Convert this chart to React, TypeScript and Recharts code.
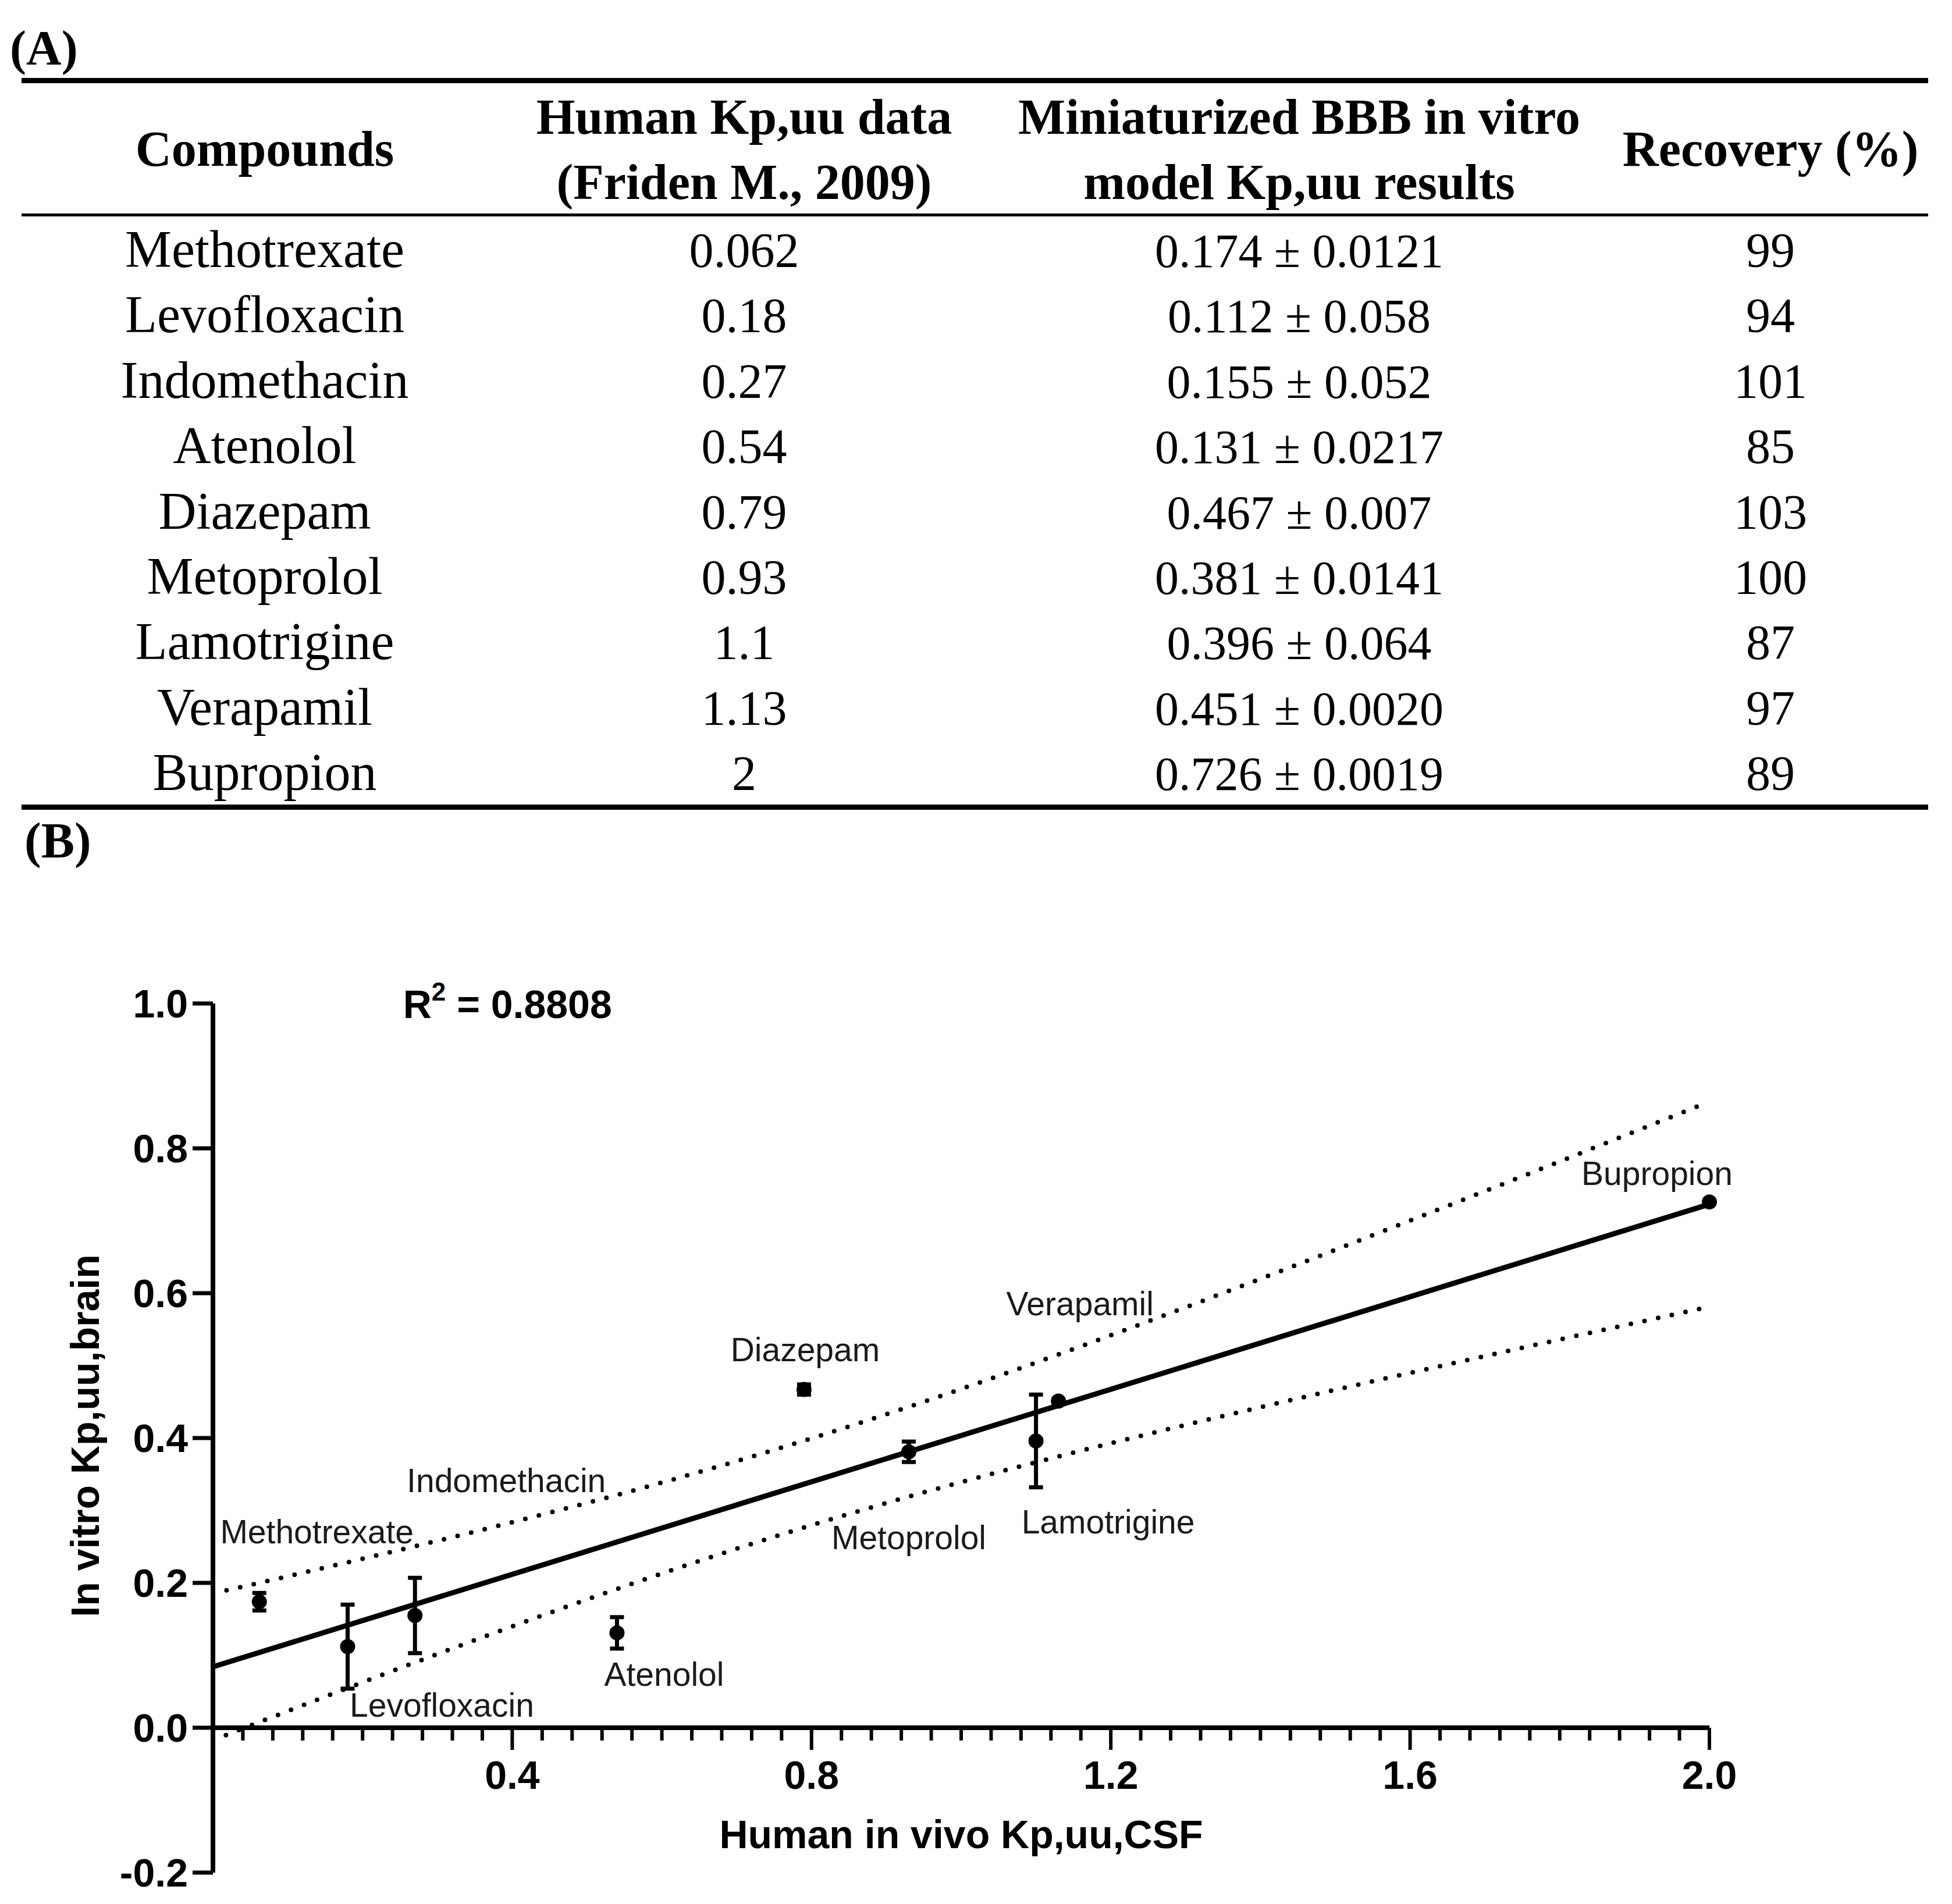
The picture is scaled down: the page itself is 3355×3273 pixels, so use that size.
import React from 'react'
import { ScatterChart, Scatter, XAxis, YAxis, ReferenceLine, ReferenceDot, ErrorBar, Label } from 'recharts'

// ---- data (table A and plot B) ----
const compounds = ['Methotrexate', 'Levofloxacin', 'Indomethacin', 'Atenolol', 'Diazepam', 'Metoprolol', 'Lamotrigine', 'Verapamil', 'Bupropion']
const humanKpuu = [0.062, 0.18, 0.27, 0.54, 0.79, 0.93, 1.1, 1.13, 2]
const invitroKpuu = [0.174, 0.112, 0.155, 0.131, 0.467, 0.381, 0.396, 0.451, 0.726]
const invitroSd = ['0.0121', '0.058', '0.052', '0.0217', '0.007', '0.0141', '0.064', '0.0020', '0.0019']
const recovery = [99, 94, 101, 85, 103, 100, 87, 97, 89]

const headers = [
  ['Compounds'],
  ['Human Kp,uu data', '(Friden M., 2009)'],
  ['Miniaturized BBB in vitro', 'model Kp,uu results'],
  ['Recovery (%)'],
]

const yTicks = [-0.2, 0, 0.2, 0.4, 0.6, 0.8, 1.0]
const xMajorTicks = [0.4, 0.8, 1.2, 1.6, 2.0]
const xMinorStep = 0.04
const xMinorCount = 50
const T_95_DF7 = 2.3646

// ---- layout / style ----
const SANS = "'Liberation Sans', Arial, Helvetica, sans-serif"
const SERIF = "'Liberation Serif', 'Times New Roman', serif"
const colX = [455, 1279, 2233, 3043]

// label offset (px) from each point to the centre of its name
const labelOffset: Record<string, [number, number]> = {
  Methotrexate: [99, -121],
  Levofloxacin: [162, 100],
  Indomethacin: [157, -233],
  Atenolol: [81, 71],
  Diazepam: [2, -69],
  Metoprolol: [0, 147],
  Lamotrigine: [124, 138],
  Verapamil: [37, -168],
  Bupropion: [-90, -50],
}
const r2Anchor = { x: 0.254, y: 1.0 }

// ---- linear regression with 95% confidence band ----
const n = humanKpuu.length
const mx = humanKpuu.reduce((a, b) => a + b, 0) / n
const my = invitroKpuu.reduce((a, b) => a + b, 0) / n
let sxx = 0, sxy = 0, syy = 0
humanKpuu.forEach((x, i) => {
  const dx = x - mx, dy = invitroKpuu[i] - my
  sxx += dx * dx
  sxy += dx * dy
  syy += dy * dy
})
const slope = sxy / sxx
const intercept = my - slope * mx
const r2 = (sxy * sxy) / (sxx * syy)
const sRes = Math.sqrt((syy - slope * sxy) / (n - 2))
const fit = (x: number) => intercept + slope * x
const half = (x: number) => T_95_DF7 * sRes * Math.sqrt(1 / n + ((x - mx) * (x - mx)) / sxx)

const bandX = Array.from({ length: 101 }, (_, i) => i * 0.02)
const fitLine = [0, 2].map((x) => ({ x, y: fit(x) }))
const upperBand = bandX.map((x) => ({ x, y: fit(x) + half(x) }))
const lowerBand = bandX.map((x) => ({ x, y: fit(x) - half(x) }))

const points = compounds.map((name, i) => ({ name, x: humanKpuu[i], y: invitroKpuu[i], sd: parseFloat(invitroSd[i]) }))
const xTickValues = Array.from({ length: xMinorCount }, (_, i) => +((i + 1) * xMinorStep).toFixed(2))
const isMajor = (v: number) => xMajorTicks.some((m) => Math.abs(m - v) < 1e-9)

const noShape = () => <g />
const dotted = { stroke: '#000', strokeWidth: 8, strokeDasharray: '0 24', strokeLinecap: 'round' as const }

const renderPoint = (props: any) => {
  const { cx, cy, payload } = props
  const [dx, dy] = labelOffset[payload.name] || [0, -50]
  return (
    <g>
      <circle cx={cx} cy={cy} r={13} fill="#000" />
      <text x={cx + dx} y={cy + dy} dy="0.36em" textAnchor="middle" fontFamily={SANS} fontSize={57} fill="#1a1a1a">
        {payload.name}
      </text>
    </g>
  )
}

const XTickMark = ({ cx, cy, value }: any) => {
  const major = isMajor(value)
  return (
    <g>
      <line x1={cx} y1={cy} x2={cx} y2={cy + (major ? 38 : 22)} stroke="#000" strokeWidth={6} />
      {major && (
        <text x={cx} y={cy + 105} textAnchor="middle" fontFamily={SANS} fontWeight={700} fontSize={68} fill="#000">
          {value.toFixed(1)}
        </text>
      )}
    </g>
  )
}

const R2Text = ({ cx, cy }: any) => (
  <text x={cx} y={cy + 25} fontFamily={SANS} fontWeight={700} fontSize={68} fill="#000">
    R<tspan fontSize={44} dy={-30}>2</tspan>
    <tspan dy={30}>{` = ${r2.toFixed(4)}`}</tspan>
  </text>
)

const YTitle = ({ viewBox }: any) => (
  <text
    transform={`translate(${viewBox.x + 146}, ${viewBox.y + viewBox.height / 2 - 4}) rotate(-90)`}
    dy="0.36em"
    textAnchor="middle"
    fontFamily={SANS}
    fontWeight={700}
    fontSize={68}
    fill="#000"
  >
    In vitro Kp,uu,brain
  </text>
)

const XTitle = ({ viewBox }: any) => (
  <text x={viewBox.x + viewBox.width / 2} y={viewBox.y + 207} textAnchor="middle" fontFamily={SANS} fontWeight={700} fontSize={68} fill="#000">
    Human in vivo Kp,uu,CSF
  </text>
)

function Table() {
  const rowY0 = 459
  const rowStep = 112.4
  return (
    <svg width={3355} height={1400} style={{ position: 'absolute', left: 0, top: 0 }}>
      <text x={17} y={111} fontFamily={SERIF} fontWeight={700} fontSize={84}>(A)</text>
      <rect x={37} y={134} width={3277} height={9} fill="#000" />
      <rect x={37} y={367} width={3277} height={5} fill="#000" />
      <rect x={37} y={1383} width={3277} height={9} fill="#000" />
      {headers.map((lines, c) =>
        lines.map((t, k) => (
          <text
            key={`${c}-${k}`}
            x={colX[c]}
            y={lines.length === 1 ? 285 : k === 0 ? 230 : 342}
            textAnchor="middle"
            fontFamily={SERIF}
            fontWeight={700}
            fontSize={86}
          >
            {t}
          </text>
        ))
      )}
      {compounds.map((name, i) => {
        const y = rowY0 + i * rowStep
        return (
          <g key={name} fontFamily={SERIF} textAnchor="middle" fill="#000">
            <text x={colX[0]} y={y} fontSize={90}>{name}</text>
            <text x={colX[1]} y={y} fontSize={84}>{String(humanKpuu[i])}</text>
            <text x={colX[2]} y={y} fontSize={82}>{`${invitroKpuu[i].toFixed(3)} ± ${invitroSd[i]}`}</text>
            <text x={colX[3]} y={y} fontSize={84}>{recovery[i]}</text>
          </g>
        )
      })}
    </svg>
  )
}

export default function App() {
  return (
    <div style={{ position: 'absolute', left: 0, top: 0, width: 3355, height: 3273, background: '#fff', overflow: 'hidden' }}>
      <Table />
      <div style={{ position: 'absolute', left: 42, top: 1395, fontFamily: SERIF, fontWeight: 700, fontSize: 86, lineHeight: '100px' }}>(B)</div>
      <div style={{ position: 'absolute', left: 0, top: 1600 }}>
        <ScatterChart width={3355} height={1673} margin={{ top: 125, right: 417, bottom: 54, left: 0 }}>
          <XAxis type="number" dataKey="x" domain={[0, 2]} hide />
          <YAxis
            type="number"
            dataKey="y"
            domain={[-0.2, 1]}
            ticks={yTicks}
            interval={0}
            width={366}
            axisLine={{ stroke: '#000', strokeWidth: 8 }}
            tickLine={{ stroke: '#000', strokeWidth: 7 }}
            tickSize={35}
            tickMargin={8}
            tickFormatter={(v: number) => v.toFixed(1)}
            tick={{ fill: '#000', fontSize: 68, fontWeight: 700, fontFamily: SANS }}
          >
            <Label content={YTitle} />
          </YAxis>
          <ReferenceLine y={0} stroke="#000" strokeWidth={8} label={XTitle} />
          {xTickValues.map((v) => (
            <ReferenceDot key={v} x={v} y={0} r={0} shape={(p: any) => <XTickMark {...p} value={v} />} />
          ))}
          <Scatter data={upperBand} line={dotted} shape={noShape} isAnimationActive={false} />
          <Scatter data={lowerBand} line={dotted} shape={noShape} isAnimationActive={false} />
          <Scatter data={fitLine} line={{ stroke: '#000', strokeWidth: 9 }} shape={noShape} isAnimationActive={false} />
          <Scatter data={points} shape={renderPoint} isAnimationActive={false}>
            <ErrorBar dataKey="sd" direction="y" width={12} strokeWidth={7} stroke="#000" isAnimationActive={false} />
          </Scatter>
          <ReferenceDot x={r2Anchor.x} y={r2Anchor.y} r={0} shape={R2Text} />
        </ScatterChart>
      </div>
    </div>
  )
}
